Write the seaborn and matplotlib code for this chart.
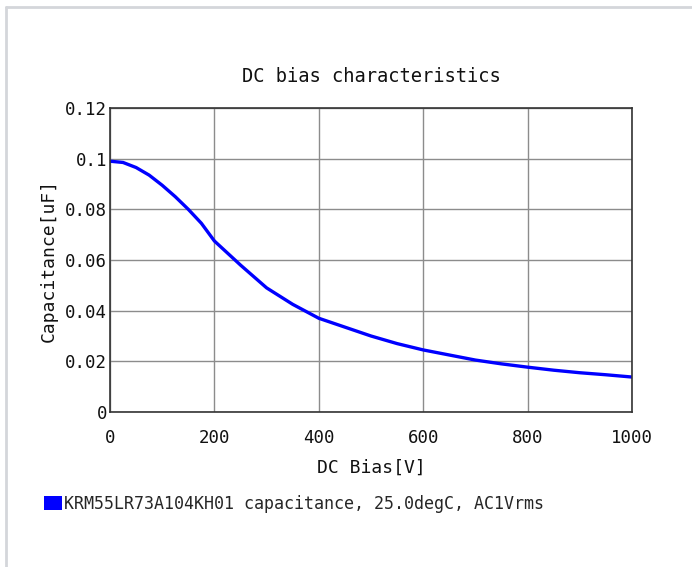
import matplotlib
matplotlib.use("Agg")
import matplotlib.pyplot as plt
import seaborn as sns
import pandas as pd
from matplotlib.lines import Line2D
from matplotlib.patches import Patch

# ---- data ----
dc_bias_v = [0, 25, 50, 75, 100, 125, 150, 175, 200, 250, 300, 350, 400,
             450, 500, 550, 600, 650, 700, 750, 800, 850, 900, 950, 1000]
capacitance_uf = [0.0990, 0.0985, 0.0965, 0.0935, 0.0895, 0.0850, 0.0800,
                  0.0745, 0.0675, 0.0580, 0.0490, 0.0425, 0.0370, 0.0335,
                  0.0300, 0.0270, 0.0245, 0.0225, 0.0205, 0.0190, 0.0177,
                  0.0165, 0.0155, 0.0147, 0.0138]
x_ticks = [0, 200, 400, 600, 800, 1000]
x_tick_labels = ["0", "200", "400", "600", "800", "1000"]
y_ticks = [0, 0.02, 0.04, 0.06, 0.08, 0.10, 0.12]
y_tick_labels = ["0", "0.02", "0.04", "0.06", "0.08", "0.1", "0.12"]
title = "DC bias characteristics"
x_label = "DC Bias[V]"
y_label = "Capacitance[uF]"
legend_label = "KRM55LR73A104KH01 capacitance, 25.0degC, AC1Vrms"

df = pd.DataFrame({"bias": dc_bias_v, "cap": capacitance_uf})

sns.set_theme(style="white")
plt.rcParams["font.family"] = ["DejaVu Sans Mono", "DejaVu Sans"]

fig = plt.figure(figsize=(6.92, 5.67), dpi=100)
ax = fig.add_axes([110 / 692, 1 - 412 / 567, (632 - 110) / 692, (412 - 108) / 567])

sns.lineplot(data=df, x="bias", y="cap", ax=ax, color="#0000ff", linewidth=2.4)

ax.set_xlim(0, 1000)
ax.set_ylim(0, 0.12)
ax.set_xticks(x_ticks)
ax.set_xticklabels(x_tick_labels)
ax.set_yticks(y_ticks)
ax.set_yticklabels(y_tick_labels)
ax.tick_params(axis="both", length=0, labelsize=12.5, colors="#111111")
ax.tick_params(axis="x", pad=12)
ax.tick_params(axis="y", pad=2)
ax.grid(True, color="#8c8c8c", linewidth=1.0)
for s in ax.spines.values():
    s.set_color("#333333")
    s.set_linewidth(1.2)
    s.set_visible(True)

ax.set_title(title, fontsize=13.5, pad=19, color="#111111")
ax.set_xlabel(x_label, fontsize=13, labelpad=9, color="#111111")
ax.set_ylabel(y_label, fontsize=13, color="#111111")
ax.yaxis.set_label_coords(-0.10, 0.5)

handle = Patch(facecolor="#0000ff", edgecolor="none")
fig.legend([handle], [legend_label], loc="center left",
           bbox_to_anchor=(44 / 692, 1 - 504 / 567), frameon=False,
           fontsize=12, handlelength=1.1, handleheight=0.9,
           handletextpad=0.1, borderaxespad=0, borderpad=0)

# outer frame lines (top and left)
fig.add_artist(Line2D([6 / 692, 1], [1 - 7 / 567, 1 - 7 / 567],
                      transform=fig.transFigure, color="#d4d6da", linewidth=2))
fig.add_artist(Line2D([6 / 692, 6 / 692], [0, 1 - 7 / 567],
                      transform=fig.transFigure, color="#d4d6da", linewidth=2))

fig.savefig("out.png", dpi=100)
